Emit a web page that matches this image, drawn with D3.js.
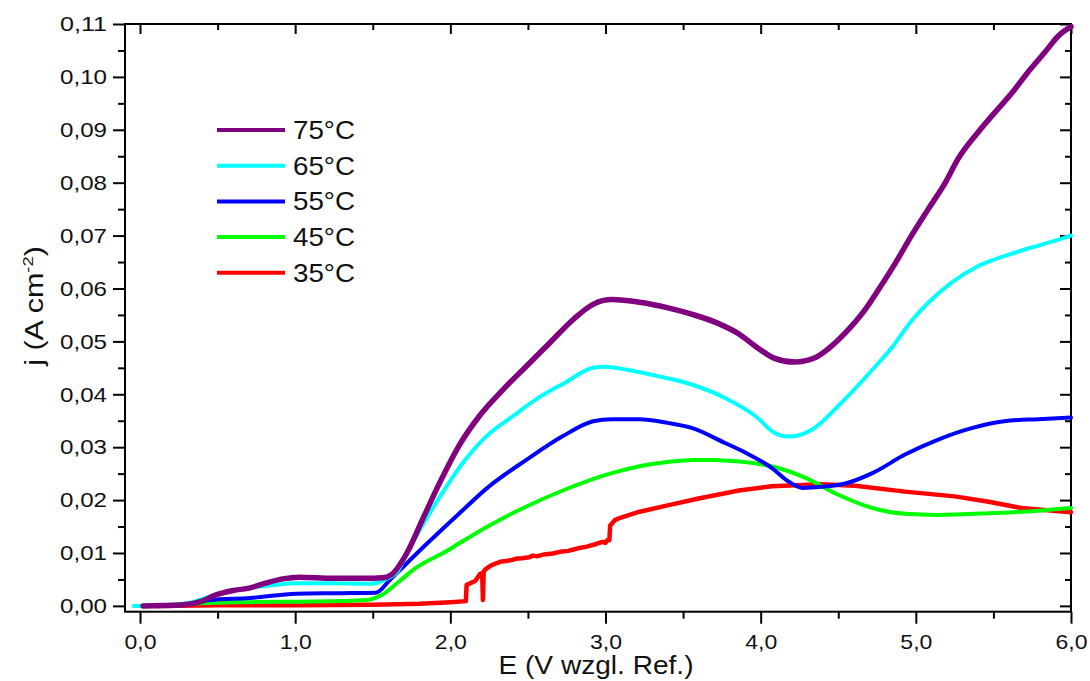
<!DOCTYPE html>
<html>
<head>
<meta charset="utf-8">
<script src="https://cdn.jsdelivr.net/npm/d3@7"></script>
<style>
  html, body { margin: 0; padding: 0; background: #fff; }
  svg { display: block; font-family: "Liberation Sans", Arial, sans-serif; }
</style>
</head>
<body>
<svg id="chart" width="1090" height="681"></svg>
<script>
// ---------------- data ----------------
const seriesNames = ["75°C", "65°C", "55°C", "45°C", "35°C"];
const seriesColors = ["#800080", "#00ffff", "#0000ff", "#00ff00", "#ff0000"];

const xMajor = [0, 1, 2, 3, 4, 5, 6];
const xMinor = [0.5, 1.5, 2.5, 3.5, 4.5, 5.5];
const yMajor = [0, 0.01, 0.02, 0.03, 0.04, 0.05, 0.06, 0.07, 0.08, 0.09, 0.10, 0.11];
const yMinor = [0.005, 0.015, 0.025, 0.035, 0.045, 0.055, 0.065, 0.075, 0.085, 0.095, 0.105];

const s75 = [[0.02,0],[0.15,0.00005],[0.28,0.0002],[0.39,0.0008],[0.49,0.0021],[0.60,0.0029],[0.71,0.0034],
  [0.81,0.0043],[0.92,0.0051],[1.03,0.0054],[1.24,0.0052],[1.45,0.0052],[1.56,0.0053],[1.62,0.0059],[1.72,0.0100],
  [1.82,0.0163],[1.93,0.0232],[2.06,0.0305],[2.19,0.0360],[2.34,0.0409],[2.49,0.0453],[2.64,0.0497],[2.79,0.0541],
  [2.92,0.0570],[3.04,0.0579],[3.22,0.0574],[3.41,0.0563],[3.56,0.0551],[3.71,0.0536],[3.86,0.0514],[3.97,0.0490],
  [4.09,0.0468],[4.22,0.0461],[4.35,0.0469],[4.44,0.0487],[4.545,0.0516],[4.673,0.0560],[4.76,0.0598],[4.87,0.0649],
  [4.97,0.0699],[5.08,0.0750],[5.19,0.0800],[5.27,0.0844],[5.40,0.0895],[5.51,0.0933],[5.62,0.0970],[5.72,0.1008],
  [5.83,0.1046],[5.92,0.1078],[6.0,0.1095]];

const s65 = [[-0.04,0],[0.02,0],[0.15,0.0001],[0.30,0.0005],[0.49,0.0021],[0.60,0.0029],[0.70,0.0034],[0.85,0.0039],
  [1.0,0.0043],[1.25,0.0043],[1.50,0.0042],[1.58,0.0050],[1.66,0.0065],[1.72,0.0100],[1.80,0.0142],[1.93,0.0205],
  [2.08,0.0270],[2.23,0.0320],[2.40,0.0358],[2.55,0.0390],[2.74,0.0422],[2.92,0.0450],[3.0,0.0452],[3.13,0.0447],
  [3.34,0.0434],[3.56,0.0418],[3.77,0.0393],[3.97,0.0358],[4.09,0.0327],[4.18,0.0320],[4.33,0.0333],[4.52,0.0384],
  [4.74,0.0453],[4.85,0.0490],[4.97,0.0538],[5.08,0.0573],[5.23,0.0611],[5.40,0.0642],[5.57,0.0661],[5.74,0.0677],
  [5.87,0.0688],[6.0,0.0700]];

const s55 = [[0.0,0],[0.15,0.00005],[0.28,0.0002],[0.45,0.0011],[0.71,0.0015],[1.01,0.0023],[1.30,0.0024],[1.52,0.0025],
  [1.61,0.0049],[1.70,0.0075],[1.84,0.0115],[2.04,0.0170],[2.25,0.0226],[2.49,0.0276],[2.72,0.0320],[2.92,0.0349],
  [3.04,0.0353],[3.22,0.0353],[3.40,0.0346],[3.56,0.0336],[3.77,0.0308],[3.90,0.0290],[4.07,0.0261],[4.18,0.0235],
  [4.27,0.0223],[4.39,0.0225],[4.54,0.0231],[4.72,0.0251],[4.93,0.0286],[5.14,0.0314],[5.36,0.0336],[5.57,0.0349],
  [5.79,0.0353],[6.0,0.0356]];

const s45 = [[0.0,0],[0.20,0.0002],[0.39,0.0005],[0.70,0.0007],[1.03,0.0008],[1.30,0.0009],[1.46,0.0011],[1.56,0.0021],
  [1.67,0.0046],[1.76,0.0068],[1.99,0.0106],[2.06,0.0119],[2.40,0.0175],[2.74,0.0220],[3.04,0.0251],[3.22,0.0264],
  [3.40,0.0272],[3.56,0.0276],[3.70,0.0276],[3.86,0.0273],[4.07,0.0264],[4.29,0.0242],[4.50,0.0210],[4.72,0.0185],
  [4.93,0.0174],[5.14,0.0172],[5.47,0.0175],[5.79,0.0180],[6.0,0.0185]];

const s35 = [[0.1,0],[0.5,0.0001],[1.0,0.0001],[1.5,0.0002],[1.8,0.0004],[2.0,0.0007],[2.10,0.0009],[2.105,0.0040],
  [2.13,0.0043],[2.16,0.0047],[2.19,0.0060],[2.205,0.0062],[2.21,0.0011],[2.215,0.0065],[2.23,0.0070],[2.26,0.0076],
  [2.30,0.0081],[2.33,0.0084],[2.36,0.0085],[2.40,0.0087],[2.42,0.0089],[2.46,0.0090],[2.51,0.0092],[2.53,0.0095],
  [2.56,0.0094],[2.60,0.0097],[2.66,0.0099],[2.72,0.0103],[2.76,0.0104],[2.80,0.0107],[2.84,0.0110],[2.88,0.0112],
  [2.94,0.0117],[2.98,0.0121],[3.0,0.0119],[3.01,0.0124],[3.025,0.0124],[3.03,0.0152],[3.06,0.0162],[3.10,0.0167],
  [3.22,0.0178],[3.40,0.0190],[3.60,0.0203],[3.86,0.0218],[4.07,0.0226],[4.39,0.0230],[4.61,0.0227],[4.93,0.0216],
  [5.25,0.0207],[5.47,0.0197],[5.68,0.0185],[6.0,0.0177]];

const seriesData = [s75, s65, s55, s45, s35];

// ---------------- layout ----------------
const svg = d3.select("#chart");
const L = 125, R = 1071, T = 24, B = 611.7;
const x = d3.scaleLinear().domain([-0.1, 6]).range([L - 0.5, R]);
const y = d3.scaleLinear().domain([-0.0011, 0.11]).range([B, T]);
const comma = f => (v => d3.format(f)(v).replace(".", ","));

function styleAxis(g, len) {
  g.select(".domain").remove();
  g.selectAll("line").attr("stroke", "#000").attr("stroke-width", 2);
  g.selectAll("text").attr("fill", "#111").style("font-size", "21px")
    .style("font-family", "'Liberation Sans', Arial, sans-serif");
  if (len) g.selectAll("text").attr("textLength", len).attr("lengthAdjust", "spacingAndGlyphs");
}

// bottom axis
svg.append("g").attr("transform", `translate(0,${B})`)
  .call(d3.axisBottom(x).tickValues(xMajor).tickSize(12).tickPadding(10).tickFormat(comma(".1f")))
  .call(g => styleAxis(g, 32));
svg.append("g").attr("transform", `translate(0,${B})`)
  .call(d3.axisBottom(x).tickValues(xMinor).tickSize(7).tickFormat(""))
  .call(g => styleAxis(g));
// top axis (inward)
svg.append("g").attr("transform", `translate(0,${T})`)
  .call(d3.axisBottom(x).tickValues(xMajor).tickSize(10).tickFormat(""))
  .call(g => styleAxis(g));
svg.append("g").attr("transform", `translate(0,${T})`)
  .call(d3.axisBottom(x).tickValues(xMinor).tickSize(6).tickFormat(""))
  .call(g => styleAxis(g));
// left axis
svg.append("g").attr("transform", `translate(${L},0)`)
  .call(d3.axisLeft(y).tickValues(yMajor).tickSize(12).tickPadding(6).tickFormat(comma(".2f")))
  .call(g => styleAxis(g, 47));
svg.append("g").attr("transform", `translate(${L},0)`)
  .call(d3.axisLeft(y).tickValues(yMinor).tickSize(7).tickFormat(""))
  .call(g => styleAxis(g));
// right axis (inward)
svg.append("g").attr("transform", `translate(${R},0)`)
  .call(d3.axisLeft(y).tickValues(yMajor).tickSize(11).tickFormat(""))
  .call(g => styleAxis(g));
svg.append("g").attr("transform", `translate(${R},0)`)
  .call(d3.axisLeft(y).tickValues(yMinor).tickSize(6).tickFormat(""))
  .call(g => styleAxis(g));

// frame
svg.append("rect").attr("x", L).attr("y", T).attr("width", R - L).attr("height", B - T)
  .attr("fill", "none").attr("stroke", "#000").attr("stroke-width", 2);

// ---------------- curves ----------------
const smooth = d3.line().x(d => x(d[0])).y(d => y(d[1])).curve(d3.curveMonotoneX);
const straight = d3.line().x(d => x(d[0])).y(d => y(d[1]));
const order = [4, 3, 2, 1, 0];
order.forEach(i => {
  svg.append("path").datum(seriesData[i])
    .attr("d", i === 4 ? straight : smooth)
    .attr("fill", "none")
    .attr("stroke", seriesColors[i])
    .attr("stroke-width", i === 0 ? 5.5 : (i === 4 ? 4.5 : 4))
    .attr("stroke-linejoin", "round")
    .attr("stroke-linecap", "round");
});

// ---------------- legend ----------------
const leg = svg.append("g");
seriesNames.forEach((n, i) => {
  const cy = 130 + i * 35.7;
  leg.append("line").attr("x1", 217).attr("x2", 285).attr("y1", cy).attr("y2", cy)
    .attr("stroke", seriesColors[i]).attr("stroke-width", 4);
  leg.append("text").attr("x", 293).attr("y", cy + 9).text(n)
    .attr("textLength", 62).attr("lengthAdjust", "spacingAndGlyphs")
    .style("font-size", "25px").attr("fill", "#111");
});

// ---------------- axis titles ----------------
svg.append("text").attr("x", 596).attr("y", 674).attr("text-anchor", "middle")
  .attr("textLength", 195).attr("lengthAdjust", "spacingAndGlyphs")
  .style("font-size", "25px").attr("fill", "#111").text("E (V wzgl. Ref.)");

const yt = svg.append("text").attr("transform", "translate(43,306) rotate(-90) scale(1.22,1)")
  .attr("text-anchor", "middle").style("font-size", "25px").attr("fill", "#111");
yt.append("tspan").text("j (A cm");
yt.append("tspan").attr("dy", -10).style("font-size", "15px").text("-2");
yt.append("tspan").attr("dy", 10).text(")");
</script>
</body>
</html>
